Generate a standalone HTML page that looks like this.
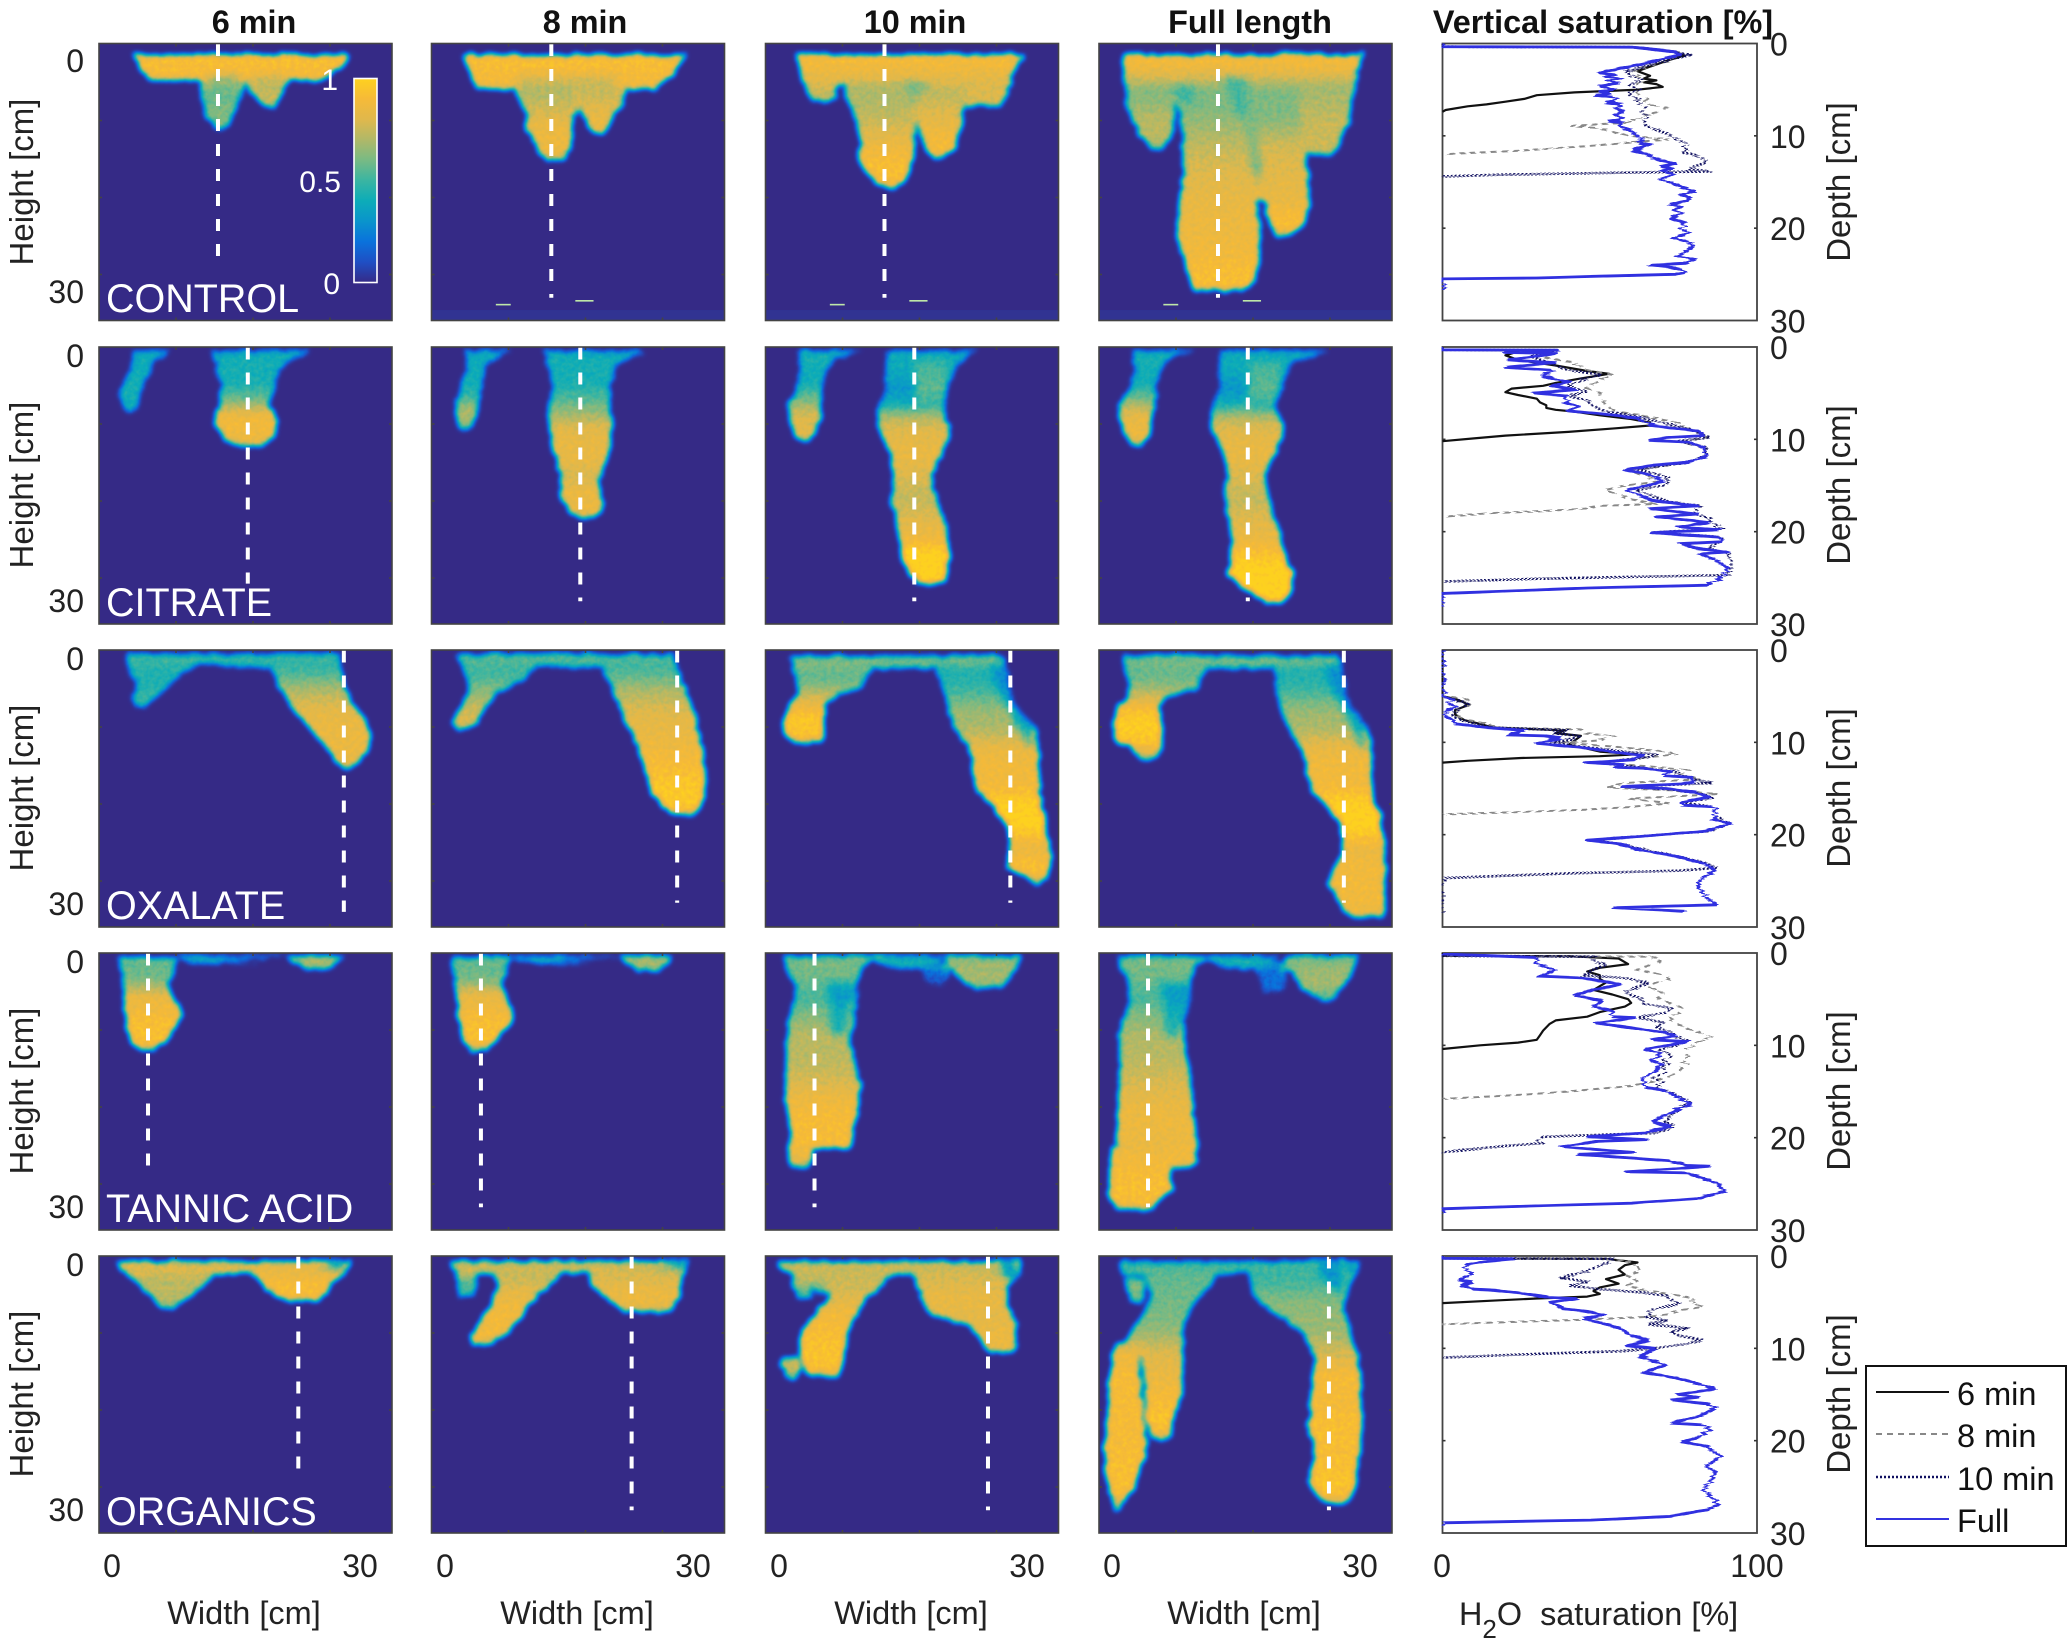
<!DOCTYPE html>
<html lang="en">
<head>
<meta charset="utf-8">
<title>Vertical saturation fingering panels</title>
<style>
html,body{margin:0;padding:0;background:#fff;}
svg{display:block;font-family:"Liberation Sans",Arial,sans-serif;}
</style>
</head>
<body>
<svg id="figure" xmlns="http://www.w3.org/2000/svg" width="2067" height="1652" viewBox="0 0 2067 1652">
  <defs id="defs">
    <linearGradient id="cbar-gradient" x1="0" y1="1" x2="0" y2="0"></linearGradient>
  </defs>
  <g id="panels"></g>

  <g font-weight="bold" font-size="32.4" fill="#111" text-anchor="middle">
    <text x="254" y="33">6 min</text>
    <text x="585" y="33">8 min</text>
    <text x="915" y="33">10 min</text>
    <text x="1250" y="33">Full length</text>
    <text x="1603" y="33">Vertical saturation [%]</text>
  </g>

  <g font-size="39.5" fill="#fff">
    <text x="106" y="312">CONTROL</text>
    <text x="106" y="616">CITRATE</text>
    <text x="106" y="919">OXALATE</text>
    <text x="106" y="1222">TANNIC ACID</text>
    <text x="106" y="1525">ORGANICS</text>
  </g>

  <g font-size="32" fill="#222" text-anchor="end">
    <text x="84" y="72">0</text>
    <text x="84" y="303">30</text>
    <text x="84" y="367">0</text>
    <text x="84" y="612">30</text>
    <text x="84" y="670">0</text>
    <text x="84" y="915">30</text>
    <text x="84" y="973">0</text>
    <text x="84" y="1218">30</text>
    <text x="84" y="1276">0</text>
    <text x="84" y="1521">30</text>
  </g>

  <g font-size="33" fill="#222" text-anchor="middle">
    <text transform="translate(33,182) rotate(-90)">Height [cm]</text>
    <text transform="translate(33,485) rotate(-90)">Height [cm]</text>
    <text transform="translate(33,788) rotate(-90)">Height [cm]</text>
    <text transform="translate(33,1091) rotate(-90)">Height [cm]</text>
    <text transform="translate(33,1394) rotate(-90)">Height [cm]</text>
  </g>

  <g font-size="33" fill="#222" text-anchor="middle">
    <text transform="translate(1850,182) rotate(-90)">Depth [cm]</text>
    <text transform="translate(1850,485) rotate(-90)">Depth [cm]</text>
    <text transform="translate(1850,788) rotate(-90)">Depth [cm]</text>
    <text transform="translate(1850,1091) rotate(-90)">Depth [cm]</text>
    <text transform="translate(1850,1394) rotate(-90)">Depth [cm]</text>
  </g>

  <g font-size="32" fill="#222" text-anchor="middle">
    <text x="112" y="1577">0</text>
    <text x="360" y="1577">30</text>
    <text x="445" y="1577">0</text>
    <text x="693" y="1577">30</text>
    <text x="779" y="1577">0</text>
    <text x="1027" y="1577">30</text>
    <text x="1112" y="1577">0</text>
    <text x="1360" y="1577">30</text>
    <text x="1442" y="1577">0</text>
    <text x="1757" y="1577">100</text>
  </g>

  <g font-size="32.5" fill="#222" text-anchor="middle">
    <text x="244" y="1624">Width [cm]</text>
    <text x="577" y="1624">Width [cm]</text>
    <text x="911" y="1624">Width [cm]</text>
    <text x="1244" y="1624">Width [cm]</text>
  </g>
  <text x="1459" y="1625" font-size="32.4" fill="#222" xml:space="preserve">H<tspan dy="13" font-size="26">2</tspan><tspan dy="-13">O  saturation [%]</tspan></text>

  <g>
    <rect x="354" y="78.5" width="23" height="204" fill="url(#cbar-gradient)" stroke="#fff" stroke-width="1.6"></rect>
    <g font-size="30" fill="#fff" text-anchor="end">
      <text x="338" y="90">1</text>
      <text x="341" y="192">0.5</text>
      <text x="340" y="294">0</text>
    </g>
  </g>

  <g>
    <rect x="1866" y="1366" width="200" height="180" fill="#fff" stroke="#111" stroke-width="2"></rect>
    <line x1="1876" x2="1949" y1="1392" y2="1392" stroke="#111" stroke-width="2"></line>
    <text x="1957" y="1405" font-size="32.5" fill="#111">6 min</text>
    <line x1="1876" x2="1949" y1="1434" y2="1434" stroke="#888" stroke-width="2" stroke-dasharray="6 5"></line>
    <text x="1957" y="1447" font-size="32.5" fill="#111">8 min</text>
    <line x1="1876" x2="1949" y1="1477" y2="1477" stroke="#101060" stroke-width="2.4" stroke-dasharray="2 2"></line>
    <text x="1957" y="1490" font-size="32.5" fill="#111">10 min</text>
    <line x1="1876" x2="1949" y1="1519" y2="1519" stroke="#3333e0" stroke-width="2"></line>
    <text x="1957" y="1532" font-size="32.5" fill="#111">Full</text>
  </g>
</svg>

<script>
/* ---------- categories and ticks ---------- */
const timeSteps = ['6-min', '8-min', '10-min', 'full'];
const treatments = ['control', 'citrate', 'oxalate', 'tannic', 'organics'];
const gridTicks = [10, 20, 30];
const depthTickLabels = [0, 10, 20, 30];
const colormapStops = ['#352A87','#1F4FC4','#0A72DC','#0A94CC','#0CACB8','#3AB5A2','#78BA84','#B0B868','#E0B84C','#F6BA38','#FED11F'];

/* transect (dashed line) width in cm and end depth in cm, per treatment and time */
const transectWidth = [[12.8,12.9,12.8,12.8],[16.4,16.4,16.4,16.4],[28,28.1,28,28],[4.35,4.4,4.35,4.35],[22.5,22.6,25.3,26.2]];
const transectEnd = [[25.5,30.8,30.8,30.8],[28.5,30.8,30.8,30.8],[31.8,30.6,30.6,30.6],[25.5,30.8,30.8,30.8],[25.5,30.8,30.8,30.8]];

/* thin sensor artefacts near the base of the control tank: [depth cm, from cm, to cm] */
const controlStreaks = [[31.7,6.2,8],[31.2,15.8,18]];

/* plume saturation: each plume is rows of [depth cm, left cm, right cm, saturation 0-1] */
const control6 = [
 [[-.9,2.6,28.6,.92],[.8,3.3,27.6,.9],[2.4,4.6,25.5,.85]],
 [[1,10.5,16,.75],[2.5,10.8,16,.6],[4.6,10.8,15.5,.55],[7.2,11.4,14.6,.62],[8,12,14,.6],[8.7,12.6,13.2,.4]],
 [[1,16.5,21.5,.75],[3.3,16.3,21,.72],[5,17.5,20.1,.75],[5.9,18.6,19.6,.6]]
];
const control8 = [
 [[-.9,2.1,29.2,.92],[1,3,28,.9],[3.5,4,25.5,.85]],
 [[1,8,22,.82],[3.5,8.5,21,.68],[5.5,9.3,16.5,.72],[7.2,9.8,15.5,.78],[9,10,15.5,.85],[10.7,10.9,15.3,.86],[12,11.8,15,.8],[12.9,12.4,14,.5]],
 [[3,15.5,22,.72],[5,16,21.5,.76],[7.2,16.8,20.5,.82],[8.5,17.5,19.8,.85],[9.3,18.3,19.2,.6]]
];
const control10 = [
 [[-.9,2,29.7,.9],[1,2.6,28.5,.84],[3,3.2,27.8,.78]],
 [[2.9,3.2,7,.75],[4.5,3.6,7,.72],[5,4.2,6.5,.5]],
 [[2.5,15,28,.75],[4.5,18,27.5,.8],[5.7,22.9,26.8,.7]],
 [[2,8,18,.72],[5,8.3,17,.68],[8,9.6,16.6,.74],[10.5,9.9,16.3,.82],[12.5,9.6,16.3,.88],[14.5,10.6,15.8,.92],[15.8,12,15.2,.85],[16.5,13.2,14,.5]],
 [[3,16,24,.68],[6,16.5,22.2,.76],[8,16.8,22.1,.82],[10,17.2,21.8,.86],[11.5,18,21,.9],[12.5,19,20,.55]],
 [[2,14,19,.54],[3.8,15,18.5,.58],[6,15,17,.68]]
];
const controlFull = [
 [[-.9,1.25,30.2,.9],[1,1.5,29.8,.82],[3,1.6,29.3,.62]],
 [[3,1.6,8,.62],[6,2,7.5,.64],[8,2.6,7.5,.72],[10,3.6,7,.72],[11.4,4.8,5.8,.5]],
 [[3,20,29.3,.66],[6,20,29,.7],[8,21,28.6,.74],[10,22,27.6,.76],[11.4,23,27.2,.74],[12.1,24,26.5,.5]],
 [[3,7.5,20,.6],[7,8.2,17,.62],[11,8.6,17,.72],[15,8.5,17.3,.8],[19,8.1,17.6,.84],[23,7.8,17.9,.86],[26,8.8,17.8,.88],[28.5,9.5,17.4,.92],[29.8,10,16,.8]],
 [[3,15,23,.6],[8,17,23.4,.62],[12,18,23.4,.78],[16,18,23.8,.82],[19,18.5,23.8,.84],[21,19.2,23,.92],[22.6,20,21.8,.7]],
 [[1.5,13,17,.5],[4,13.5,17,.52],[8,14.5,17,.52]],
 [[8,15.5,18,.6],[14,16.5,18.5,.56],[18,17.5,18.5,.5]],
 [[2.5,6,10,.5],[6,8,11,.5]]
];

const citrate6 = [
 [[-1.9,2.5,7,.32],[-.5,2.6,5,.4],[1.5,1.8,4.4,.4],[3.5,1,3.6,.42],[5.2,1.4,3,.42],[6,2,2.6,.3]],
 [[-1.9,12,24,.35],[0,12.7,20.4,.42],[3,13.2,19.5,.42],[5,13,19,.58],[7.4,12.4,19.9,.88],[9.5,13.5,19.4,.85],[10.5,15,18,.5]]
];
const citrate8 = [
 [[-1.9,2.5,8,.32],[-.5,2.8,5.3,.4],[2,2.3,4.6,.4],[4.5,1.5,4.2,.45],[6.5,1.3,3.8,.72],[8.3,2,3,.45]],
 [[-1.9,12,24,.35],[0,12.7,20.5,.42],[3,13,20,.42],[6,12.5,20,.6],[9,12.7,20.3,.82],[12,13.4,19.7,.84],[14.5,14,18.6,.74],[17,14,19,.85],[19,15,19,.85],[19.8,16,18,.5]]
];
const citrate10 = [
 [[-1.9,2.5,10,.38],[-1,2.5,7,.42],[1,2.7,5.6,.4],[3,2.2,5.3,.4],[5,1.2,5.2,.6],[7,1.3,5,.78],[9,2,4.4,.82],[10,2.8,3.4,.5]],
 [[-1.9,13,24,.35],[-.5,13,22,.4],[1,13,21,.36],[3,13,20.5,.28],[5.5,12,19.8,.38],[7.5,12,20.5,.72],[9,12.3,20.7,.8],[11.5,13.5,19.7,.84],[14.5,14,18.4,.78],[17.5,13.6,19,.72],[20.5,14.3,20.2,.8],[23,14.6,20.4,.86],[25.3,15,20.7,1],[27.5,16,20.4,1],[28.5,17,20,.7]],
 [[0,17,20,.5],[3,17,20,.55],[5,17,19,.45]]
];
const citrateFull = [
 [[-1.9,2.5,10,.38],[-1,2.5,7,.42],[1,2.7,5.6,.4],[3,2.2,5.3,.4],[5,1,5.2,.6],[7,.9,4.8,.82],[9,1.6,4.6,.86],[10.6,2.4,3.4,.5]],
 [[-1.9,13,26,.35],[-.5,13,22,.4],[1,13,21,.36],[3,13,20.5,.28],[5.5,12,19.8,.38],[7.5,12,20.5,.72],[9,12.3,20.7,.8],[11.5,13.5,19.7,.84],[14.5,14,18.4,.78],[17.5,13.6,19,.72],[20.5,14.2,20,.8],[23,14.5,20.4,.84],[25,14.4,21,.92],[27,14,21.8,1],[29,15.6,22,1],[30.2,17.8,21.2,1],[31,18.8,20.4,.6]],
 [[0,17,20,.5],[3,17,20,.55],[5,17,19,.45]]
];

const oxalate6 = [
 [[-1.8,1.5,27.5,.5],[-.9,8,27.5,.45],[-.2,15,27,.3]],
 [[-1.7,1.5,11,.5],[-.3,2,10,.45],[1.5,2.5,7.5,.42],[3,3,6,.45],[4.3,2.6,4.6,.5],[5,3,3.8,.35]],
 [[-1,19,27.6,.45],[1,19.6,27.8,.5],[3.5,20.7,28.5,.7],[6,22.5,30,.82],[8.5,24.5,31.2,.85],[10.5,26,31,.85],[12,27,30,.85],[13,27.8,28.8,.5]]
];
const oxalate8 = [
 [[-1.8,1.5,27.5,.55],[-.9,8,27.5,.5],[-.2,13,27,.35]],
 [[-1.7,1.5,12,.55],[-.3,2,11,.5],[1.5,2.7,9.5,.5],[3,3,6.5,.6],[5,2,5.2,.7],[7,1,3.8,.8],[8.1,1.4,2.6,.4]],
 [[-1,19,28,.45],[1,19.4,28.4,.52],[4,20.8,29.6,.72],[7,22,30.4,.82],[10,23.3,31,.85],[13,24.2,31.5,.9],[16,25,31.6,.96],[18,26.5,31,.95],[19,27.6,30,.5]]
];
const oxalate10 = [
 [[-1.6,1.3,27.4,.6],[-.6,5,27.4,.55],[0,9,27,.45]],
 [[-1.4,1.3,12,.62],[.5,2,11,.55],[2.5,2.2,10.2,.58],[3.5,2.4,7,.68],[4.7,1.4,5.6,.8],[7,.6,5.6,.96],[8.8,.7,5.5,.9],[9.7,2,5.2,.5]],
 [[-1,19,27.4,.48],[1,19.4,27.6,.42],[3.5,20,28,.5],[6.2,20.7,28.8,.66],[8.6,21.8,31.3,.7],[11,23.2,31.4,.84],[13.5,23.5,31.5,.88],[16,24,31.5,.88],[18,25.8,31.8,.98],[20,27.3,32.2,1],[22,28,32.5,.88],[24,27.8,32.9,.82],[26,27.7,32.8,.92],[27.3,30,32.5,.8],[27.9,31,31.6,.5]],
 [[-1,25,27.4,.3],[2,25.5,27.8,.28],[5,27,28.6,.3],[8,28.5,31,.35],[11,29.5,31.3,.5]]
];
const oxalateFull = [
 [[-1.6,1.3,27.4,.6],[-.6,5,27.4,.55],[0,9,27,.45]],
 [[-1.4,1.3,12,.6],[.5,1.8,11,.55],[2.5,2,10.2,.6],[3.8,2,6.5,.72],[5.1,.6,5.6,.85],[7.3,.1,6,.98],[9.2,.4,6.2,.94],[10.8,2.8,6,.75],[11.9,3.6,4.6,.5]],
 [[-1,19.6,27.5,.48],[1,19.8,27.8,.42],[3.5,20,28.2,.5],[6.2,20.6,29,.66],[8.6,21.8,31.2,.7],[11,23.2,31.3,.84],[13.5,23.6,31.4,.88],[16,24.2,31.5,.88],[18,26,32,.98],[20,27.5,32.6,1],[22,28,32.7,.9],[24,27.8,33,.82],[26,26.8,33,.88],[28,26.2,33,.88],[30,27.2,33,.88],[31.5,28,33,.85],[32.3,29,32.8,.6]],
 [[-1,25,27.5,.3],[2,25.5,28,.28],[5,27,28.8,.3],[8,28.5,31,.35],[11,29.5,31.2,.5]]
];

const tannic6 = [
 [[-2,8,21,.3],[-1.2,9,12,.35],[-1,14,18,.45]],
 [[-2,21,28,.62],[-1,22,27,.7],[-.3,23.5,26,.5]],
 [[-1.8,.8,8,.58],[0,1,7.4,.55],[2,1.4,6.8,.62],[4,1.6,7.6,.86],[5.5,1.6,8.6,.86],[7,1.8,7.8,.92],[9,2.3,6.5,.92],[10.3,3.4,5.2,.5]]
];
const tannic8 = [
 [[-2,8,21,.3],[-1.2,9,12,.35],[-1,14,18,.45]],
 [[-2,21.2,27.6,.62],[-1,22,27,.7],[-.1,23.5,26,.5]],
 [[-1.8,.8,8,.58],[0,1,7.4,.55],[2,1.4,6.8,.62],[4,1.6,7.6,.86],[5.5,1.6,8.4,.86],[7,1.8,7.8,.92],[9,2.2,6.2,.92],[10.3,3.2,5,.5]]
];
const tannic10 = [
 [[-2,10,20,.35],[-1,13,19,.38],[-.4,14,17,.45]],
 [[-1,17,21,.15],[1.5,18,20,.14]],
 [[-2,20,29.4,.55],[-.5,20.8,28.8,.66],[.8,22,28,.68],[1.8,23,27,.6],[2.2,24,26.8,.45]],
 [[-2,.8,12,.55],[-.5,.8,10,.6],[1.5,2,9.4,.55],[4,2.2,9.4,.5],[6,1.2,9.4,.6],[9,1,8.6,.72],[12,.9,9.2,.72],[15,.8,9.9,.78],[17,.8,9.7,.85],[19.5,1.3,9.2,.9],[21.5,1.6,9,.9],[23,2.5,8.8,.9]],
 [[1,5,9.4,.35],[4,5.8,9.4,.32],[6.5,5.6,9,.42],[9,6,8.6,.45]],
 [[22,1.4,4.4,.88],[24,1,4.2,.85],[25.5,1.6,3.6,.5]]
];
const tannicFull = [
 [[-2,10,20,.35],[-1,13,19,.38],[-.4,14,17,.45]],
 [[-1,17,21,.15],[2.5,18.5,20.5,.2]],
 [[-2,20.8,29.7,.5],[-.5,21,29.2,.62],[1,22.3,28.5,.68],[2.3,23,27.5,.62],[3.4,24.8,27,.5],[3.9,25.8,26.6,.4]],
 [[-2,.9,12,.55],[-.5,.9,10,.6],[1.5,2,9.5,.55],[4,2.2,9.5,.5],[6,1.3,8.7,.6],[9,.9,8.7,.7],[12,.9,9.2,.72],[15,.9,9.7,.78],[17,.7,9.8,.82],[19.5,.8,9.8,.86],[22.5,.5,10.2,.84],[24.5,1,10.2,.88],[25.6,6.5,9.6,.6]],
 [[1,5,9.5,.35],[4,5.8,9.5,.32],[6.5,5.6,8.7,.42],[9,6,8.6,.45]],
 [[23,0,7,.82],[25,-.3,7.3,.88],[27,-.3,6.9,.9],[28.5,-.3,7.4,.92],[30,-.2,5.5,.9],[31,.3,4.8,.6]]
];

const organics6 = [
 [[-1.7,.5,29,.78],[-.8,.8,28.5,.8],[0,2,12.5,.72],[1.5,3.5,11,.72],[3,5,9,.72],[4.4,6,7.5,.45]],
 [[-.5,16.5,28,.82],[1,18,27,.86],[2.5,19.5,25.6,.92],[3.4,21,25,.55]],
 [[-1.8,25,29,.4],[0,26,28,.35]]
];
const organics8 = [
 [[-1.7,.6,29.5,.75],[-.8,.8,29,.76],[0,2,13,.7]],
 [[0,1.4,4,.55],[3,1.8,3.6,.5]],
 [[0,6,14,.72],[2,6.4,12,.78],[4,5.6,10.2,.86],[6,4.5,9,.88],[8,3.2,7.2,.88],[9.3,3.5,5,.5]],
 [[-.5,17,29,.76],[1.5,18,28.5,.8],[3.5,20,28.2,.86],[4.9,22,27.2,.6]],
 [[-1.8,26,29.5,.4],[0,27,29,.35]]
];
const organics10 = [
 [[-1.6,0,29.4,.72],[-.8,.2,29.3,.76],[0,1.7,13,.72]],
 [[0,1.7,13.5,.72],[1,1.9,12.5,.68]],
 [[1,1.7,4.2,.6],[3.1,2.2,4,.5]],
 [[1,4,7,.42],[2.5,4.6,6,.3]],
 [[1,6.5,13,.75],[3,6,10.6,.78],[6,3.8,8.9,.88],[9,2.4,8.1,.92],[11,2.8,7.8,.94],[12.6,3.2,7.6,.85],[13.2,4,7.2,.5]],
 [[10.7,.6,2.2,.6],[12,.3,2.7,.75],[13.6,1,2.2,.5]],
 [[-.5,16,29,.74],[2,17,27.6,.8],[3.8,17.5,27.6,.84],[5.3,18.6,28.2,.8],[6.5,22.8,28.6,.82],[9,24.8,28.8,.86],[10.2,25.6,28.4,.6]],
 [[-2,26,29.3,.32],[0,26.5,29,.3],[1,27,28.4,.28]]
];
const organicsFull = [
 [[-1.6,.9,30,.5],[-.8,1,29.8,.5],[0,1.6,13,.48]],
 [[.5,1.6,4,.55],[2.5,1.9,4,.62],[3.6,2.4,3.6,.45]],
 [[0,4,13,.55],[3,4.8,10.5,.58],[6,3.3,8.7,.6],[9,1.5,8.6,.68]],
 [[9,.6,5,.7],[11,-.1,3.3,.86],[14,-.4,3.4,.9],[17,-.4,3.6,.9],[20,-.7,4,.9],[22.5,-.9,4.3,.9],[25.5,-.9,3.3,.92],[28,-.3,2.6,.92],[30.7,.2,.8,.6]],
 [[9,3.5,8.3,.7],[11,3.6,8.6,.8],[14.7,4,8.5,.86],[17,4,8,.9],[19.5,4.2,7.4,.94],[21,5,7,.7],[21.7,5.6,6.4,.4]],
 [[-.5,16.5,29.7,.48],[2,17,28.5,.52],[4,18,28,.62],[6,21,28.5,.65],[8,23.4,29,.66],[11,24.4,29.7,.78],[14,24.2,30,.9],[17,24,30.1,.88],[20,23.8,30.2,.92],[23,24.4,30,.9],[25,24.2,29.6,.92],[27,23.8,29.5,.94],[29,24.8,29,.88],[30,26,28,.5]],
 [[-2,24,28,.3],[1,25,28.3,.3],[3,27,28,.3]]
];

/* vertical saturation curves: pairs of [depth cm, H2O saturation %] */
const controlCurve6 = [[0,0],[.35,0],[.4,60],[.9,74],[1.3,77],[1.8,72],[2.5,66],[3,62],[3.5,66],[3.8,64],[4,68],[4.2,64],[4.4,68],[4.7,70],[5,62],[5.1,55],[5.3,42],[5.6,30],[6,26],[6.3,20],[6.6,14],[6.8,8],[7.2,1],[7.4,0]];
const controlCurve8 = [[0,0],[.35,0],[.4,60],[.9,74],[1.2,75],[1.8,73],[2.5,65],[3,60],[3.5,62],[4,64],[4.5,62],[5,62],[5.5,62],[6,64],[6.6,66],[7,71],[7.4,70],[7.8,64],[8.2,62],[8.6,58],[8.9,41],[9.2,50],[9.6,54],[10,60],[10.4,72],[10.7,60],[11,50],[11.3,38],[11.6,25],[11.9,5],[12,0]];
const controlCurve10 = [[0,0],[.35,0],[.4,60],[.9,74],[1.25,79],[1.8,72],[2.3,66],[2.7,62],[3,58],[3.5,60],[4,63],[4.5,60],[5,62],[5.4,59],[5.8,60],[6.3,63],[6.8,64],[7.3,64],[7.8,65],[8.3,64],[8.8,64],[9.2,66],[9.8,72],[10.3,74],[10.8,77],[11.3,78],[11.8,76],[12,80],[12.5,83],[12.9,84],[13.3,80],[13.6,78],[13.85,85],[14,55],[14.2,20],[14.4,0]];
const controlCurveFull = [[0,0],[.35,0],[.4,60],[.9,74],[1.2,76],[1.7,70],[2.2,64],[2.6,58],[3,52],[3.2,50],[3.4,55],[3.6,52],[3.8,56],[4,53],[4.3,56],[4.6,50],[5,54],[5.2,50],[5.4,53],[5.6,49],[5.8,54],[6.2,55],[6.4,52],[6.6,57],[7,55],[7.4,58],[7.8,55],[8.2,57],[8.4,53],[8.6,57],[9,56],[9.5,60],[10,62],[10.5,64],[10.8,62],[11,66],[11.3,63],[11.6,60],[12,65],[12.5,68],[13,74],[13.3,69],[13.6,73],[13.8,70],[14.2,73],[14.7,70],[15,72],[15.4,75],[16,80],[16.4,76],[16.7,79],[17,78],[17.4,73],[17.7,76],[18,74],[18.4,76],[19,72],[19.4,77],[20,76],[20.5,78],[21,74],[21.5,78],[22,80],[22.5,77],[23,75],[23.4,80],[23.8,77],[24,66],[24.2,72],[24.5,76],[24.8,77],[25,74],[25.2,50],[25.4,30],[25.5,0],[26.7,0]];

const citrateCurve6 = [[0,0],[.3,0],[.35,20],[.5,24],[.9,20],[1.4,24],[2,36],[2.6,46],[2.9,53],[3.4,44],[3.9,36],[4.2,32],[4.5,22],[4.9,20],[5.2,24],[5.6,30],[6,31],[6.3,33],[6.6,33],[6.8,36],[7,42],[7.4,50],[7.8,60],[8.2,66],[8.5,66],[8.8,55],[9.2,40],[9.6,20],[9.9,10],[10.2,0]];
const citrateCurve8 = [[0,0],[.3,0],[.35,36],[1,30],[1.7,42],[2.5,46],[3,54],[3.6,50],[4.4,46],[5,50],[5.6,50],[6.2,52],[7,55],[7.6,66],[8.2,75],[8.8,78],[9.4,82],[9.8,84],[10.3,76],[10.9,83],[11.7,84],[12.5,78],[13.4,60],[14,65],[14.6,68],[15,58],[15.5,52],[16,56],[16.4,58],[17,68],[17.2,50],[17.5,45],[17.8,30],[18,15],[18.4,0]];
const citrateCurve10 = [[0,0],[.3,0],[.35,36],[1,28],[1.8,35],[2.5,40],[3,50],[3.6,44],[4.2,40],[4.8,46],[5.3,40],[5.8,46],[6.4,48],[7,52],[7.6,63],[8.2,70],[8.8,78],[9.4,82],[9.8,85],[10.2,75],[10.9,84],[11.7,84],[12.5,78],[13.2,62],[13.7,68],[14.3,72],[15,70],[15.5,62],[16.2,66],[16.8,72],[17.2,82],[18,80],[18.6,85],[19.1,86],[19.7,89],[20.1,66],[20.6,89],[21.2,88],[21.8,84],[22.3,90],[23,92],[24,92],[24.7,91],[24.9,60],[25.1,30],[25.4,0]];
const citrateCurveFull = [[0,0],[.3,0],[.35,36],[.6,20],[.7,36],[1.4,21],[1.7,36],[2.2,20],[2.5,35],[3.1,31],[3.8,40],[4.2,35],[4.6,43],[5,29],[5.3,39],[6,39],[6.4,43],[6.9,40],[7.3,52],[7.7,62],[8.5,67],[9.1,81],[9.6,83],[9.8,72],[10.1,66],[10.3,78],[10.9,83],[11.8,84],[12.5,78],[12.8,67],[13.3,58],[13.7,65],[14.5,70],[15,65],[15.5,59],[16.1,62],[16.6,66],[17,76],[17.2,81],[17.5,66],[18.1,81],[18.4,68],[19,85],[19.5,75],[19.8,88],[20.1,66],[20.6,88],[21.1,89],[21.3,75],[21.8,81],[22.2,90],[22.4,82],[23.1,87],[24,91],[24.9,89],[25.8,84],[26.1,46],[26.7,0],[28.1,0]];

const oxalateCurve6 = [[0,0],[5,0],[5.3,4],[5.7,7],[6,8],[6.5,4],[7,4],[7.6,7],[8,12],[8.4,16],[8.7,39],[9,36],[9.3,44],[9.8,42],[10.3,40],[10.6,45],[11,50],[11.3,62],[11.5,50],[11.7,25],[12,8],[12.2,0]];
const oxalateCurve8 = [[0,0],[5,0],[5.2,6],[5.6,9],[6,8],[6.4,5],[7,4],[7.6,8],[8,14],[8.4,18],[8.6,44],[9,45],[9.3,54],[9.8,50],[10,38],[10.4,52],[10.8,65],[11,72],[11.3,74],[11.8,60],[12.2,48],[12.6,65],[13,78],[13.5,76],[14,82],[14.4,58],[14.9,52],[15.2,72],[15.6,88],[16.1,60],[16.6,72],[17,60],[17.3,45],[17.6,20],[17.8,0]];
const oxalateCurve10 = [[0,0],[5,0],[5.4,4],[5.8,8],[6.2,6],[6.6,4],[7,3],[7.5,5],[8,10],[8.4,16],[8.7,40],[9,35],[9.3,44],[9.6,42],[10,35],[10.5,45],[11,58],[11.3,68],[11.6,66],[12.2,50],[12.8,64],[13.2,74],[13.6,76],[14,80],[14.4,86],[14.8,58],[15.1,72],[15.5,82],[16,86],[16.5,76],[17,86],[18,87],[18.8,91],[19.6,85],[20.6,47],[21,56],[22,70],[23,83],[23.6,87],[23.9,75],[24.2,40],[24.7,0],[28.5,0]];
const oxalateCurveFull = [[0,0],[5,0],[5.4,3],[5.8,2],[6.2,4],[6.6,1],[7.2,1],[7.5,3],[8,4],[8.4,14],[8.7,26],[9.2,21],[9.3,33],[9.5,38],[10.1,30],[10.5,43],[11.2,58],[11.4,64],[11.9,60],[12.2,46],[12.4,57],[12.7,55],[12.8,64],[13.2,72],[13.6,70],[13.8,79],[14.3,80],[14.5,76],[14.8,57],[15,71],[15.4,80],[15.9,85],[16.5,76],[16.8,77],[17,86],[17.9,87],[18.3,86],[18.8,91],[19.6,84],[20,70],[20.3,59],[20.6,46],[20.8,51],[21,56],[21.7,64],[22.4,75],[23.1,83],[23.9,87],[24.6,83],[25.5,81],[26.8,84],[27.6,87],[27.9,55],[28.3,77]];

const tannicCurve6 = [[0,0],[.3,0],[.35,40],[.6,56],[1.2,59],[1.6,50],[2,46],[2.4,50],[2.8,50],[3.2,52],[3.6,50],[4,48],[4.5,54],[5,59],[5.4,60],[5.8,58],[6.4,50],[6.9,46],[7.3,36],[7.7,34],[8.4,32],[8.9,31],[9.4,30],[9.7,24],[10,12],[10.4,0]];
const tannicCurve8 = [[0,0],[.3,0],[.4,66],[.8,69],[1.3,66],[1.8,62],[2.3,70],[2.8,72],[3.3,68],[3.8,66],[4.3,70],[4.8,68],[5.4,72],[6,76],[6.5,75],[7,72],[7.6,74],[8.2,78],[8.8,84],[9.2,85],[9.8,80],[10.5,78],[11,78],[11.6,76],[12,78],[12.5,76],[13,74],[13.5,72],[14,66],[14.4,60],[14.7,50],[15,40],[15.3,28],[15.6,12],[15.8,0]];
const tannicCurve10 = [[0,0],[.3,0],[.4,48],[.9,48],[1.3,52],[1.8,48],[2.4,44],[2.7,58],[3.3,66],[3.7,62],[4.2,58],[4.6,60],[5,64],[5.5,64],[6,72],[6.5,70],[7,62],[7.5,70],[8,68],[8.5,72],[9,74],[9.5,78],[10,74],[10.5,70],[11,72],[11.6,70],[12,72],[12.5,70],[13,70],[13.5,68],[14,70],[14.6,68],[15,72],[15.6,75],[16.2,79],[16.6,76],[17.2,74],[17.8,72],[18.3,70],[18.8,74],[19.2,70],[19.5,68],[19.9,32],[20.3,31],[20.6,32],[20.9,20],[21.3,8],[21.6,0]];
const tannicCurveFull = [[0,0],[.1,0],[.5,30],[1.1,30],[1.8,35],[2.5,30.5],[2.7,44],[3.4,57],[4,48],[4.6,42],[5.2,51],[5.8,48],[6.3,54],[6.9,54],[7,61],[7.6,49],[8.1,60],[8.6,70],[9,74],[9.4,67],[9.6,78],[10.4,65],[10.8,69],[11.6,66],[12.1,70],[13,66],[13.9,64],[14.6,65],[14.8,70],[15.7,75],[16.4,79],[17.2,73],[18.3,66],[18.8,73],[19.3,66],[19.5,64],[19.9,46],[20.2,65],[20.4,49],[21,38.5],[21.6,60],[21.8,43],[22.2,60],[22.5,72],[23,78],[23.1,85],[23.7,59],[23.8,77],[24.4,83],[24.9,87],[25.8,90],[26.6,81],[27.1,60],[27.4,28],[27.7,0],[28.2,0]];

const organicsCurve6 = [[0,0],[.25,0],[.3,52],[.7,62],[1,58],[1.5,56],[2,58],[2.5,52],[3,56],[3.4,50],[3.8,48],[4.1,50],[4.4,46],[4.6,30],[4.8,18],[5.1,0]];
const organicsCurve8 = [[0,0],[.25,0],[.3,50],[.6,60],[1,62],[1.6,63],[2.1,58],[2.7,62],[3.2,58],[3.7,64],[4.1,72],[4.6,80],[5,79],[5.5,83],[5.9,75],[6.3,72],[6.6,65],[6.9,45],[7.1,25],[7.4,0]];
const organicsCurve10 = [[0,0],[.25,0],[.3,54],[.7,53],[1,50],[1.7,46],[2.4,37],[2.8,46],[3.2,41],[3.6,50],[3.9,62],[4.3,71],[4.8,73],[5.2,75],[5.7,68],[6.1,66],[6.6,65],[7,72],[7.4,65],[7.8,78],[8.2,73],[8.6,75],[9.1,83],[9.6,76],[10,68],[10.3,57],[10.6,30],[11,0]];
const organicsCurveFull = [[0,0],[.25,0],[.3,23],[.6,13.5],[.9,8],[1.6,7],[2.1,9],[2.6,6],[2.8,10],[3.2,5.4],[3.6,9.5],[3.7,16],[4,24],[4.5,34],[4.6,43],[5,34],[5.7,38],[6,46],[6.4,51],[6.8,45],[7.3,51],[7.9,57],[8.6,60],[9.1,66],[9.7,58],[10,68],[10.8,62],[11.5,69],[11.8,71],[12.6,64],[12.9,70],[13.5,78],[14.4,87],[15,75],[15.3,81],[15.6,73],[16,84],[16.5,87],[17.4,81],[18.1,73],[18.3,83],[18.8,85],[19.7,81],[20.1,76],[20.6,84],[21.7,88],[22.8,84],[23.5,87],[25.3,83],[26.9,88],[27.5,84],[28.2,72],[28.6,47],[28.9,0],[29.5,0]];

const heatRows = [
 [control6, control8, control10, controlFull],
 [citrate6, citrate8, citrate10, citrateFull],
 [oxalate6, oxalate8, oxalate10, oxalateFull],
 [tannic6, tannic8, tannic10, tannicFull],
 [organics6, organics8, organics10, organicsFull]
];
const curveRows = [
 [controlCurve6, controlCurve8, controlCurve10, controlCurveFull],
 [citrateCurve6, citrateCurve8, citrateCurve10, citrateCurveFull],
 [oxalateCurve6, oxalateCurve8, oxalateCurve10, oxalateCurveFull],
 [tannicCurve6, tannicCurve8, tannicCurve10, tannicCurveFull],
 [organicsCurve6, organicsCurve8, organicsCurve10, organicsCurveFull]
];

/* ---------- layout and axis functions ---------- */
const NS = 'http://www.w3.org/2000/svg';
const columnLeft = [99, 431.5, 765.5, 1099];
const rowTop = [43.5, 347, 650, 953, 1256];
const PANEL_W = 293, PANEL_H = 277;
const CURVE_LEFT = 1442.5, CURVE_W = 314.5;
const widthToX = (col, w) => columnLeft[col] + 13 + w * 8.28;
const depthToY = (row, d) => rowTop[row] + 18 + d * 7.67;
const curveX = s => CURVE_LEFT + s / 100 * CURVE_W;
const curveY = (row, d) => rowTop[row] + d / 30 * PANEL_H;

function make(tag, attrs, parent) {
  const el = document.createElementNS(NS, tag);
  for (const k in attrs) el.setAttribute(k, attrs[k]);
  parent.appendChild(el);
  return el;
}
const hexChannel = (hex, i) => parseInt(hex.substr(1 + i * 2, 2), 16) / 255;

const defs = document.getElementById('defs');
const panelsLayer = document.getElementById('panels');

/* colorbar gradient */
const cbarGrad = document.getElementById('cbar-gradient');
colormapStops.forEach((c, i) => {
  make('stop', {offset: i / (colormapStops.length - 1), 'stop-color': c}, cbarGrad);
});

/* colormap filter: rough edge, smooth interior, soft mask, then colour table */
const filter = make('filter', {id: 'colormap', filterUnits: 'objectBoundingBox', x: 0, y: 0, width: 1, height: 1, 'color-interpolation-filters': 'sRGB'}, defs);
make('feTurbulence', {type: 'fractalNoise', baseFrequency: .1, numOctaves: 3, seed: 7, result: 'warpNoise'}, filter);
make('feDisplacementMap', {in: 'SourceGraphic', in2: 'warpNoise', scale: 8, xChannelSelector: 'R', yChannelSelector: 'G', result: 'warped'}, filter);
make('feMorphology', {in: 'warped', operator: 'dilate', radius: 4, result: 'spread'}, filter);
make('feGaussianBlur', {in: 'spread', stdDeviation: 4, result: 'smooth'}, filter);
make('feTurbulence', {type: 'fractalNoise', baseFrequency: .22, numOctaves: 2, seed: 11, result: 'grain'}, filter);
make('feColorMatrix', {in: 'grain', type: 'matrix', values: '1 0 0 0 0 1 0 0 0 0 1 0 0 0 0 0 0 0 0 1', result: 'grainGray'}, filter);
make('feComposite', {in: 'smooth', in2: 'grainGray', operator: 'arithmetic', k1: 0, k2: 1, k3: .14, k4: -.07, result: 'mottled'}, filter);
const threshold = make('feComponentTransfer', {in: 'warped', result: 'maskHard'}, filter);
['feFuncR', 'feFuncG', 'feFuncB'].forEach(fn => {
  make(fn, {type: 'discrete', tableValues: '0 1 1 1 1 1 1 1 1 1'}, threshold);
});
make('feGaussianBlur', {in: 'maskHard', stdDeviation: 2.6, result: 'mask'}, filter);
make('feComposite', {in: 'mottled', in2: 'mask', operator: 'arithmetic', k1: 1, k2: 0, k3: 0, k4: 0, result: 'field'}, filter);
const transfer = make('feComponentTransfer', {in: 'field'}, filter);
['feFuncR', 'feFuncG', 'feFuncB'].forEach((fn, i) => {
  make(fn, {type: 'table', tableValues: colormapStops.map(c => hexChannel(c, i).toFixed(3)).join(' ')}, transfer);
});

/* horizontal jitter filter giving the measured curves their noisy look */
const jitter = make('filter', {id: 'curve-jitter', filterUnits: 'objectBoundingBox', x: '-10%', y: '-2%', width: '120%', height: '104%', 'color-interpolation-filters': 'sRGB'}, defs);
make('feTurbulence', {type: 'fractalNoise', baseFrequency: '0.01 0.5', numOctaves: 2, seed: 3, result: 'jitterNoise'}, jitter);
make('feColorMatrix', {in: 'jitterNoise', type: 'matrix', values: '1 0 0 0 0 0 0 0 0 .5 0 0 0 0 0 0 0 0 0 1', result: 'jitterX'}, jitter);
make('feDisplacementMap', {in: 'SourceGraphic', in2: 'jitterX', scale: 14, xChannelSelector: 'R', yChannelSelector: 'G'}, jitter);

/* heatmap panels */
heatRows.forEach((rowPanels, r) => {
  rowPanels.forEach((plumes, c) => {
    const left = columnLeft[c], top = rowTop[r];
    const clip = make('clipPath', {id: 'clip-' + r + '-' + c}, defs);
    make('rect', {x: left, y: top, width: PANEL_W, height: PANEL_H}, clip);

    const panel = make('g', {'clip-path': 'url(#clip-' + r + '-' + c + ')'}, panelsLayer);
    
    

    const field = make('g', {filter: 'url(#colormap)', 'shape-rendering': 'crispEdges'}, panel);
    
    
    make('rect', {x: left - 24, y: top - 24, width: PANEL_W + 48, height: PANEL_H + 48, fill: '#000'}, field);

    plumes.forEach(rows => {
      for (let i = 0; i < rows.length - 1; i++) {
        const a = rows[i], b = rows[i + 1];
        const n = Math.max(1, Math.ceil((depthToY(r, b[0]) - depthToY(r, a[0])) / 2));
        for (let k = 0; k < n; k++) {
          const t0 = k / n, t1 = (k + 1) / n, tm = (t0 + t1) / 2;
          const y0 = depthToY(r, a[0] + (b[0] - a[0]) * t0);
          const y1 = depthToY(r, a[0] + (b[0] - a[0]) * t1) + .6;
          const l0 = widthToX(c, a[1] + (b[1] - a[1]) * t0), l1 = widthToX(c, a[1] + (b[1] - a[1]) * t1);
          const r0 = widthToX(c, a[2] + (b[2] - a[2]) * t0), r1 = widthToX(c, a[2] + (b[2] - a[2]) * t1);
          const v = Math.round((a[3] + (b[3] - a[3]) * tm) * 255);
          const strip = make('polygon', {points: l0 + ',' + y0 + ' ' + r0 + ',' + y0 + ' ' + r1 + ',' + y1 + ' ' + l1 + ',' + y1, fill: 'rgb(' + v + ',' + v + ',' + v + ')'}, field);
          
          
        }
      }
    });

    if (r === 0 && c > 0) {
      const haze = make('rect', {x: left, y: depthToY(r, 32.4), width: PANEL_W, height: top + PANEL_H - depthToY(r, 32.4), fill: '#2a45a8', opacity: .35}, panel);
      
      
      controlStreaks.forEach(s => {
        const streak = make('line', {x1: widthToX(c, s[1]), x2: widthToX(c, s[2]), y1: depthToY(r, s[0]), y2: depthToY(r, s[0]), stroke: '#bfe6a8', 'stroke-width': 1.6}, panel);
        
        
      });
    }

    const tx = widthToX(c, transectWidth[r][c]);
    const transect = make('line', {x1: tx, x2: tx, y1: top + .5, y2: depthToY(r, transectEnd[r][c]), stroke: '#fff', 'stroke-width': 4, 'stroke-dasharray': '12 13'}, panel);
    
    

    const frame = make('g', {stroke: '#444', fill: 'none', 'stroke-width': 1.6}, panelsLayer);
    
    
    const border = make('rect', {x: left, y: top, width: PANEL_W, height: PANEL_H}, frame);
    
    
    gridTicks.forEach(t => {
      const px = t * 7.7;
      [[left + px, top, left + px, top + 3], [left + px, top + PANEL_H, left + px, top + PANEL_H - 3],
       [left, top + px, left + 3, top + px], [left + PANEL_W, top + px, left + PANEL_W - 3, top + px]].forEach(s => {
        const tick = make('line', {x1: s[0], y1: s[1], x2: s[2], y2: s[3]}, frame);
        
        
      });
    });
  });
});

/* saturation curve panels */
const curveStyles = [
  {stroke: '#111', 'stroke-width': 2.2},
  {stroke: '#888', 'stroke-width': 2, 'stroke-dasharray': '6 5', filter: 'url(#curve-jitter)'},
  {stroke: '#101060', 'stroke-width': 2.6, 'stroke-dasharray': '2 2', filter: 'url(#curve-jitter)'},
  {stroke: '#3030e0', 'stroke-width': 2.8, filter: 'url(#curve-jitter)'}
];
curveRows.forEach((seriesList, r) => {
  const top = rowTop[r];
  const chart = make('g', {}, panelsLayer);
  
  
  const bg = make('rect', {x: CURVE_LEFT, y: top, width: CURVE_W, height: PANEL_H, fill: '#fff', stroke: '#444', 'stroke-width': 1.8}, chart);
  
  

  const plotClip = make('clipPath', {id: 'curve-clip-' + r}, defs);
  make('rect', {x: CURVE_LEFT - 1, y: top, width: CURVE_W + 1, height: PANEL_H}, plotClip);

  depthTickLabels.forEach(t => {
    const y = curveY(r, t);
    if (t > 0 && t < 30) {
      [[CURVE_LEFT, CURVE_LEFT + 3], [CURVE_LEFT + CURVE_W, CURVE_LEFT + CURVE_W - 3]].forEach(p => {
        const tick = make('line', {x1: p[0], x2: p[1], y1: y, y2: y, stroke: '#333', 'stroke-width': 1.6}, chart);
        
        
      });
    }
    const label = make('text', {x: 1770, y: y + 12, 'font-size': 32, fill: '#222'}, chart);
    label.textContent = t;
    
    
  });

  const plot = make('g', {'clip-path': 'url(#curve-clip-' + r + ')'}, chart);
  
  
  seriesList.forEach((series, s) => {
    const pts = series.map(p => curveX(p[1]).toFixed(1) + ',' + curveY(r, p[0]).toFixed(1)).join(' ');
    const line = make('polyline', Object.assign({points: pts, fill: 'none', 'stroke-linejoin': 'round'}, curveStyles[s]), plot);
    
    
  });
});
</script>
</body>
</html>
